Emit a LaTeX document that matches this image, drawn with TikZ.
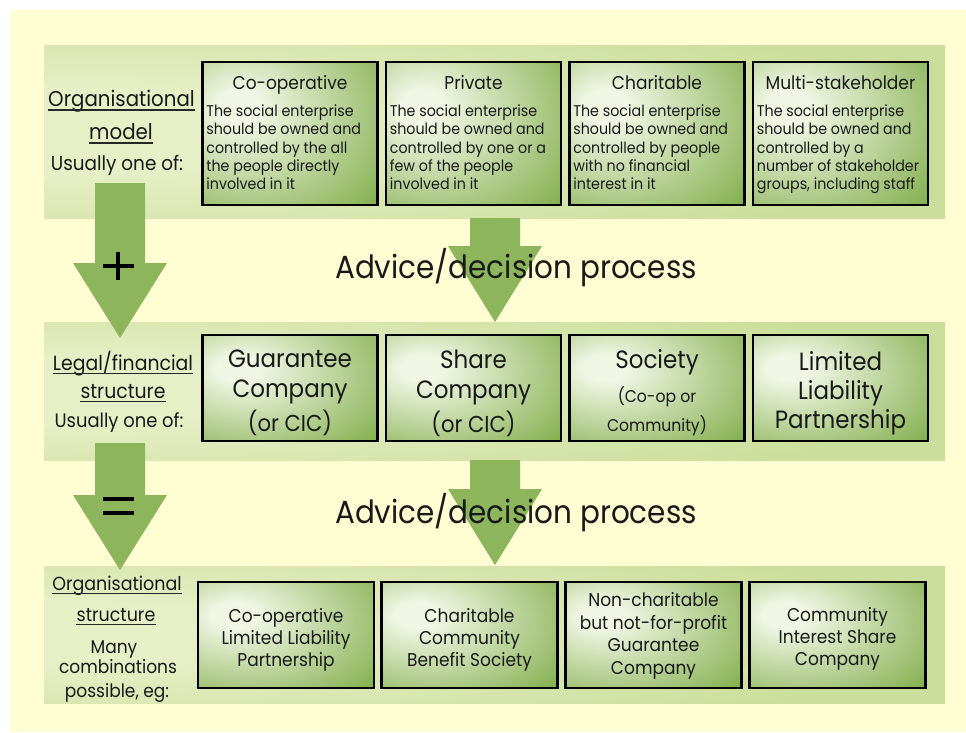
\documentclass[tikz,border=0pt]{standalone}
\usepackage{fontspec}
\setmainfont{Poppins}[FakeStretch=0.92]
\definecolor{bgy}{HTML}{FFFDD2}
\definecolor{band}{HTML}{CCDE9B}
\definecolor{bandhi}{HTML}{E6EFC6}
\definecolor{boxdk}{HTML}{84B050}
\definecolor{boxhi}{HTML}{F1F6E4}
\definecolor{arr}{HTML}{8DB65C}
\pgfdeclareradialshading{boxsh}{\pgfpoint{-16bp}{10bp}}{color(0bp)=(boxhi); color(6bp)=(boxhi); color(44bp)=(boxdk); color(90bp)=(boxdk)}
\pgfdeclareradialshading{bandsh}{\pgfpoint{-28bp}{0bp}}{color(0bp)=(bandhi); color(12bp)=(bandhi); color(40bp)=(band); color(90bp)=(band)}
\newcommand{\fs}[2]{\fontsize{#1}{#2}\selectfont}
\tikzset{
  bandbox/.style={shading=bandsh},
  blockarrow/.style={fill=arr},
  gbox/.style={draw=black, line width=2.6pt, shading=boxsh, minimum width=175pt, inner sep=0pt},
  btext/.style={inner sep=0pt, align=center, text=black!90},
  lab/.style={inner sep=0pt, anchor=base, text=black!90},
  ul/.style={line width=1.1pt, black!85},
  sign/.style={line width=4.2pt, black},
}
\begin{document}
\begin{tikzpicture}[x=1pt,y=-1pt]
\useasboundingbox (0,0) rectangle (966,732);
\fill[white] (0,0) rectangle (966,732);
\fill[bgy] (10,10) rectangle (966,732);
% bands
\shade[bandbox] (44,45) rectangle (945,218);
\shade[bandbox] (44,322) rectangle (945,460);
\shade[bandbox] (44,566) rectangle (945,703);
% block arrows
\fill[blockarrow] (95,183) -- (145,183) -- (145,263) -- (167,263) -- (120,338) -- (73,263) -- (95,263) -- cycle;
\fill[blockarrow] (95,443) -- (145,443) -- (145,495) -- (167,495) -- (120,570) -- (73,495) -- (95,495) -- cycle;
\fill[blockarrow] (470,218) -- (520,218) -- (520,246) -- (542,246) -- (495,322) -- (448,246) -- (470,246) -- cycle;
\fill[blockarrow] (470,460) -- (520,460) -- (520,489) -- (542,489) -- (495,565) -- (448,489) -- (470,489) -- cycle;
% plus and equals
\coordinate (pc) at (118,266);
\draw[sign] ([xshift=-15.5pt]pc) -- ([xshift=15.5pt]pc);
\draw[sign] ([yshift=-14pt]pc) -- ([yshift=14pt]pc);
\coordinate (ec) at (118,506);
\draw[sign] ([xshift=-15.5pt,yshift=7pt]ec) -- ([xshift=15.5pt,yshift=7pt]ec);
\draw[sign] ([xshift=-15.5pt,yshift=-7pt]ec) -- ([xshift=15.5pt,yshift=-7pt]ec);
% Advice text
\node[lab, font=\fs{32}{36}] (adv1) at (516,278) {Advice/decision process};
\node[lab, font=\fs{32}{36}] (adv2) at (516,523) {Advice/decision process};
% row 1 labels
\node[lab, font=\fs{21.5}{26}] (l1a) at (121.5,106) {Organisational};
\node[lab, font=\fs{21.5}{26}] (l1b) at (121,139) {model};
\node[lab, font=\fs{20}{24}] (l1c) at (117,170) {Usually one of:};
\draw[ul] ([yshift=-4pt]l1a.base west) -- ([yshift=-4pt]l1a.base east);
\draw[ul] ([yshift=-4pt]l1b.base west) -- ([yshift=-4pt]l1b.base east);
% row 1 boxes
\foreach \n/\x/\t/\b in {
  b11/290/Co-operative/{The social enterprise\\should be owned and\\controlled by the all\\the people directly\\involved in it},
  b12/473.5/Private/{The social enterprise\\should be owned and\\controlled by one or a\\few of the people\\involved in it},
  b13/657/Charitable/{The social enterprise\\should be owned and\\controlled by people\\with no financial\\interest in it},
  b14/840.5/Multi-stakeholder/{The social enterprise\\should be owned and\\controlled by a\\number of stakeholder\\groups, including staff}}{
  \node[gbox, minimum height=143pt] (\n) at (\x,133.5) {};
  \node[lab, font=\fs{18.5}{22}] (\n t) at (\x,89) {\t};
  \node[inner sep=0pt, anchor=north west, align=left, font=\fs{15.5}{18.2}, text=black!90] (\n b) at ([xshift=5pt,yshift=-44pt]\n.north west) {\b};
}
% row 2 labels
\node[lab, font=\fs{20.5}{24}] (l2a) at (123,370) {Legal/financial};
\node[lab, font=\fs{20.5}{24}] (l2b) at (123,398) {structure};
\node[lab, font=\fs{19.5}{24}] (l2c) at (119,427) {Usually one of:};
\draw[ul] ([yshift=-3.5pt]l2a.base west) -- ([yshift=-3.5pt]l2a.base east);
\draw[ul] ([yshift=-3.5pt]l2b.base west) -- ([yshift=-3.5pt]l2b.base east);
% row 2 boxes
\node[gbox, minimum height=106pt] (b21) at (290,388) {};
\node[gbox, minimum height=106pt] (b22) at (473.5,388) {};
\node[gbox, minimum height=106pt] (b23) at (657,388) {};
\node[gbox, minimum height=106pt] (b24) at (840.5,388) {};
\node[btext, font=\fs{25}{30}] (b21x) at ([yshift=-5pt]b21.center) {Guarantee\\Company\\[4pt]{\fs{23}{27}(or CIC)}};
\node[btext, font=\fs{25}{30}] (b22x) at ([yshift=-5pt]b22.center) {Share\\Company\\[4pt]{\fs{23}{27}(or CIC)}};
\node[btext, font=\fs{25}{29}] (b23x) at ([yshift=-5pt]b23.center) {Society\\[5pt]{\fs{17}{23}(Co-op or}\\{\fs{17}{23}Community)}};
\node[btext, font=\fs{25}{29}] (b24x) at ([yshift=-5pt]b24.center) {Limited\\Liability\\Partnership};
% row 3 labels
\node[lab, font=\fs{19}{23}] (l3a) at (117,590) {Organisational};
\node[lab, font=\fs{19}{23}] (l3b) at (116,621) {structure};
\node[lab, font=\fs{18.5}{23}] (l3c) at (114,653) {Many};
\node[lab, font=\fs{18.5}{23}] (l3d) at (118,673) {combinations};
\node[lab, font=\fs{18.5}{23}] (l3e) at (117,697) {possible, eg:};
\draw[ul] ([yshift=-3.5pt]l3a.base west) -- ([yshift=-3.5pt]l3a.base east);
\draw[ul] ([yshift=-3.5pt]l3b.base west) -- ([yshift=-3.5pt]l3b.base east);
% row 3 boxes
\node[gbox, minimum width=176pt, minimum height=106pt] (b31) at (286,635) {};
\node[gbox, minimum width=176pt, minimum height=106pt] (b32) at (469.5,635) {};
\node[gbox, minimum width=176pt, minimum height=106pt] (b33) at (653.5,635) {};
\node[gbox, minimum width=176pt, minimum height=106pt] (b34) at (837.5,635) {};
\node[btext, font=\fs{18.5}{22}] (b31x) at ([yshift=-5pt]b31.center) {Co-operative\\Limited Liability\\Partnership};
\node[btext, font=\fs{18.5}{22}] (b32x) at ([yshift=-5pt]b32.center) {Charitable\\Community\\Benefit Society};
\node[btext, font=\fs{18.5}{22.5}] (b33x) at ([yshift=-1pt]b33.center) {Non-charitable\\but not-for-profit\\Guarantee\\Company};
\node[btext, font=\fs{18.5}{22}] (b34x) at ([yshift=-4pt]b34.center) {Community\\Interest Share\\Company};
\end{tikzpicture}
\end{document}
